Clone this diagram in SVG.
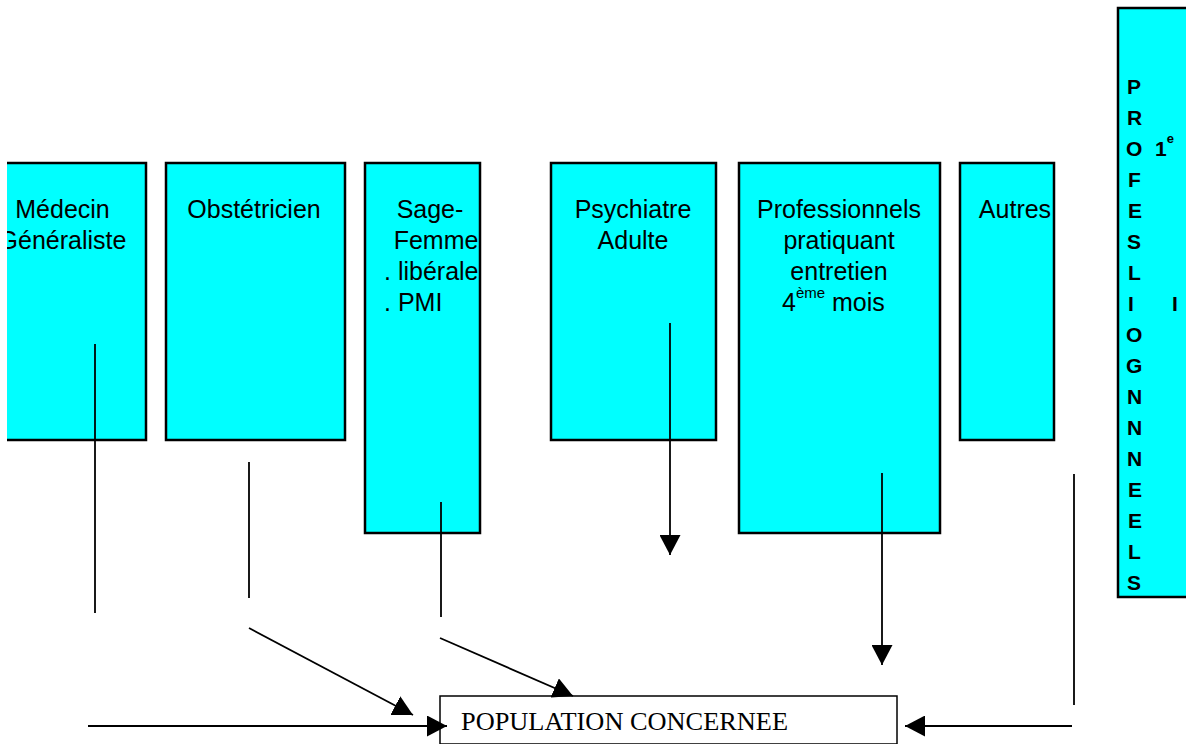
<svg xmlns="http://www.w3.org/2000/svg" width="1186" height="744" viewBox="0 0 1186 744">
<defs>
<style>
.box{fill:#00FFFF;stroke:#000;stroke-width:2.5}
.t{font-family:"Liberation Sans",Arial,sans-serif;font-size:25px;fill:#000}
.c{text-anchor:middle}
.v{font-family:"Liberation Sans",Arial,sans-serif;font-size:21px;font-weight:bold;fill:#000}
.ln{stroke:#000;stroke-width:1.8;fill:none}
.pop{fill:#fff;stroke:#000;stroke-width:1.5}
.pt{font-family:"Liberation Serif","Times New Roman",serif;font-size:25px;fill:#000}
</style>
<marker id="ah" markerUnits="userSpaceOnUse" markerWidth="20" markerHeight="21" refX="20" refY="10.5" orient="auto" viewBox="0 0 20 21">
<path d="M0,0 L20,10.5 L0,21 z" fill="#000"/>
</marker>
<clipPath id="clip1"><rect x="7" y="150" width="150" height="300"/></clipPath>
</defs>
<rect width="1186" height="744" fill="#fff"/>

<g id="medecin">
<rect x="7" y="163" width="139" height="277" fill="#00FFFF"/>
<path d="M7,163 H146 V440 H7" fill="none" stroke="#000" stroke-width="2.5"/>
<g clip-path="url(#clip1)">
<text class="t c" x="62.5" y="218">Médecin</text>
<text class="t c" x="62.5" y="249">Généraliste</text>
</g>
</g>

<g id="obstetricien">
<rect class="box" x="166" y="163" width="179" height="277"/>
<text class="t c" x="254" y="218">Obstétricien</text>
</g>

<g id="sagefemme">
<rect class="box" x="365" y="163" width="115" height="370"/>
<text class="t c" x="430" y="218">Sage-</text>
<text class="t c" x="436" y="249">Femme</text>
<text class="t" x="384" y="280">. libérale</text>
<text class="t" x="384" y="311">. PMI</text>
</g>

<g id="psychiatre">
<rect class="box" x="551" y="163" width="165" height="277"/>
<text class="t c" x="633" y="218">Psychiatre</text>
<text class="t c" x="633" y="249">Adulte</text>
</g>

<g id="professionnels">
<rect class="box" x="739" y="163" width="201" height="370"/>
<text class="t c" x="839" y="218">Professionnels</text>
<text class="t c" x="839" y="249">pratiquant</text>
<text class="t c" x="839" y="280">entretien</text>
<text class="t" x="782" y="311">4<tspan font-size="15" dy="-13">ème</tspan><tspan dy="13"> mois</tspan></text>
</g>

<g id="autres">
<rect class="box" x="960" y="163" width="94" height="277"/>
<text class="t c" x="1015" y="218">Autres</text>
</g>

<g id="professionnels-vertical">
<rect class="box" x="1118" y="8" width="80" height="589"/>
<text class="v" x="1127" y="94">P</text>
<text class="v" x="1127" y="125">R</text>
<text class="v" x="1126" y="156">O</text>
<text class="v" x="1128" y="187">F</text>
<text class="v" x="1128" y="218">E</text>
<text class="v" x="1127" y="249">S</text>
<text class="v" x="1128" y="280">L</text>
<text class="v" x="1128" y="311">I</text>
<text class="v" x="1126" y="342">O</text>
<text class="v" x="1126" y="373">G</text>
<text class="v" x="1127" y="404">N</text>
<text class="v" x="1127" y="435">N</text>
<text class="v" x="1127" y="466">N</text>
<text class="v" x="1128" y="497">E</text>
<text class="v" x="1128" y="528">E</text>
<text class="v" x="1128" y="559">L</text>
<text class="v" x="1127" y="590">S</text>
<text class="v" x="1155" y="156">1<tspan font-size="13" dy="-13">e</tspan></text>
<text class="v" x="1172" y="311">I</text>
</g>

<g id="population">
<rect class="pop" x="440" y="696" width="457" height="48"/>
<text class="pt" x="461" y="730" textLength="327" lengthAdjust="spacingAndGlyphs">POPULATION CONCERNEE</text>
</g>

<g id="connectors">
<line class="ln" x1="95" y1="344" x2="95" y2="613"/>
<line class="ln" x1="249" y1="462" x2="249" y2="598"/>
<line class="ln" x1="441" y1="502" x2="441" y2="617"/>
<line class="ln" x1="1074" y1="474" x2="1074" y2="705"/>
<line class="ln" x1="670" y1="323" x2="670" y2="555" marker-end="url(#ah)"/>
<line class="ln" x1="882" y1="473" x2="882" y2="665" marker-end="url(#ah)"/>
<line class="ln" x1="249" y1="628" x2="413" y2="715" marker-end="url(#ah)"/>
<line class="ln" x1="440" y1="638" x2="573" y2="696" marker-end="url(#ah)"/>
<line class="ln" x1="88" y1="726" x2="447" y2="726" marker-end="url(#ah)"/>
<line class="ln" x1="1072" y1="726" x2="905" y2="726" marker-end="url(#ah)"/>
</g>
</svg>
